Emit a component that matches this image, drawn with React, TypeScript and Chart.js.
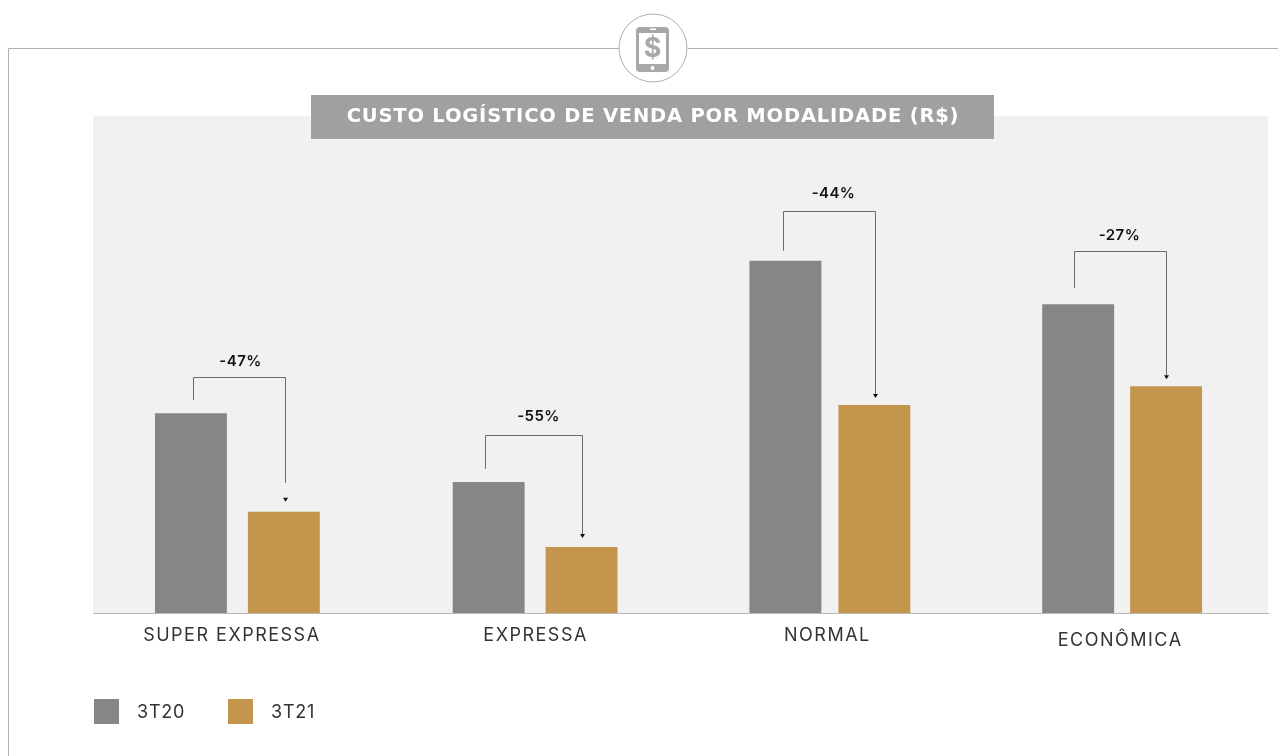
import React, { useEffect, useRef } from "react";
import { Chart, registerables } from "chart.js";

Chart.register(...registerables);

const categories = ["SUPER EXPRESSA", "EXPRESSA", "NORMAL", "ECONÔMICA"];
const series3T20 = [5.63, 3.69, 9.92, 8.7];
const series3T21 = [2.85, 1.86, 5.86, 6.39];
const deltaLabels = ["-47%", "-55%", "-44%", "-27%"];
const bracketLevels = [6.62, 4.99, 11.3, 10.17];
const titleText = "CUSTO LOGÍSTICO DE VENDA POR MODALIDADE (R$)";

const GREY = "#868686";
const GOLD = "#c4954d";
const FONT = "Inter, 'Open Sans', sans-serif";
const TITLE_FONT = "'DejaVu Sans', sans-serif";

// small per-bar horizontal corrections (px) for the hand-placed bars of the original
const barNudges = [
  [-3.5, 0.5, 3.5, 2.5],
  [-1.5, 2.5, 1.5, -0.5],
];
const labelNudges = [-8, 2, 0, -1];
const labelDrops = [0, 0, 0, 5];
const leftGaps = [13, 13, 10, 16];
const rightGaps = [10, 9, 7, 7];
const bracketLeftOffsets = [2, -4, -2, -4];
const bracketRightOffsets = [1, 0, 1, 0];
const deltaOffsets = [1, 4.5, 4, -1];
const deltaRaise = [16, 19, 18, 16];
const lineBreak = [true, false, false, false];

const decor = {
  id: "decor",
  afterUpdate(chart: any) {
    chart.data.datasets.forEach((_: any, i: number) => {
      chart.getDatasetMeta(i).data.forEach((el: any, j: number) => {
        el.x += barNudges[i][j];
      });
    });
    const items = chart.scales.x.getLabelItems(chart.chartArea);
    items.forEach((it: any, j: number) => {
      it.options.translation = [
        it.options.translation[0] + labelNudges[j],
        it.options.translation[1] + labelDrops[j],
      ];
    });
  },
  beforeDraw(chart: any) {
    const { ctx, chartArea: a } = chart;
    ctx.save();
    ctx.fillStyle = "#ffffff";
    ctx.fillRect(0, 0, chart.width, chart.height);
    ctx.fillStyle = "#f1f1f1";
    ctx.fillRect(a.left, a.top, a.right - a.left, a.bottom - a.top);

    // frame
    ctx.strokeStyle = "#b0b0b0";
    ctx.lineWidth = 1;
    ctx.beginPath();
    ctx.moveTo(8.5, 756);
    ctx.lineTo(8.5, 48.5);
    ctx.lineTo(619, 48.5);
    ctx.moveTo(688, 48.5);
    ctx.lineTo(1278, 48.5);
    ctx.stroke();
    ctx.beginPath();
    ctx.arc(653, 48, 34, 0, Math.PI * 2);
    ctx.stroke();

    // phone icon
    ctx.fillStyle = "#a8a8a8";
    ctx.beginPath();
    ctx.roundRect(636, 27, 33, 45, 4);
    ctx.fill();
    ctx.fillStyle = "#ffffff";
    ctx.fillRect(639, 33, 27, 31);
    ctx.fillRect(650, 28.5, 6, 1.5);
    ctx.beginPath();
    ctx.arc(652.5, 68, 2, 0, Math.PI * 2);
    ctx.fill();
    ctx.fillStyle = "#a8a8a8";
    ctx.font = `700 27px ${FONT}`;
    ctx.textAlign = "center";
    ctx.textBaseline = "middle";
    ctx.fillText("$", 652.5, 48.5);

    // title bar
    ctx.fillStyle = "#a0a0a0";
    ctx.fillRect(311, 95, 683, 44);
    ctx.fillStyle = "#ffffff";
    ctx.font = `700 19.5px ${TITLE_FONT}`;
    (ctx as any).letterSpacing = "0.8px";
    ctx.fillText(titleText, 653, 117);

    // legend
    ctx.textAlign = "left";
    ctx.font = `400 18px ${FONT}`;
    (ctx as any).letterSpacing = "0.8px";
    [94, 228].forEach((x, i) => {
      ctx.fillStyle = chart.data.datasets[i].backgroundColor;
      ctx.fillRect(x, 699, 25, 25);
      ctx.fillStyle = "#333333";
      ctx.fillText(chart.data.datasets[i].label, x + 43, 713);
    });
    ctx.restore();
    // the axis labels of the reference are widely tracked
    (ctx as any).letterSpacing = "1.5px";
  },
  afterDatasetsDraw(chart: any) {
    const { ctx, scales } = chart;
    const m0 = chart.getDatasetMeta(0).data;
    const m1 = chart.getDatasetMeta(1).data;
    ctx.save();
    (ctx as any).letterSpacing = "0.4px";
    deltaLabels.forEach((label, i) => {
      const lx = Math.round(m0[i].x + bracketLeftOffsets[i]) + 0.5;
      const rx = Math.round(m1[i].x + bracketRightOffsets[i]) + 0.5;
      const top = Math.round(scales.y.getPixelForValue(bracketLevels[i])) - 0.5;
      const leftEnd = m0[i].y - leftGaps[i];
      const tip = m1[i].y - rightGaps[i];
      ctx.strokeStyle = "#6b6b6b";
      ctx.lineWidth = 1;
      ctx.beginPath();
      ctx.moveTo(lx, leftEnd);
      ctx.lineTo(lx, top);
      ctx.lineTo(rx, top);
      ctx.lineTo(rx, lineBreak[i] ? tip - 19 : tip - 4);
      ctx.stroke();
      ctx.fillStyle = "#111111";
      ctx.beginPath();
      ctx.moveTo(rx - 2.5, tip - 4);
      ctx.lineTo(rx + 2.5, tip - 4);
      ctx.lineTo(rx, tip);
      ctx.closePath();
      ctx.fill();
      ctx.font = `600 15px ${FONT}`;
      ctx.textAlign = "center";
      ctx.textBaseline = "middle";
      ctx.fillText(label, (lx + rx) / 2 + deltaOffsets[i], top - deltaRaise[i]);
    });
    ctx.restore();
  },
};

export default function App() {
  const ref = useRef<HTMLCanvasElement>(null);
  useEffect(() => {
    const chart = new Chart(ref.current!, {
      type: "bar",
      data: {
        labels: categories,
        datasets: [
          { label: "3T20", data: series3T20, backgroundColor: GREY },
          { label: "3T21", data: series3T21, backgroundColor: GOLD },
        ],
      },
      plugins: [decor],
      options: {
        responsive: false,
        animation: false,
        layout: { padding: { left: 93, right: 10, top: 116, bottom: 0 } },
        datasets: { bar: { categoryPercentage: 0.619, barPercentage: 0.791 } },
        plugins: { legend: { display: false }, tooltip: { enabled: false } },
        scales: {
          x: {
            afterFit: (s: any) => {
              s.height = 143;
            },
            grid: { display: false },
            border: { display: true, color: "#b8b8b8", width: 1 },
            ticks: {
              color: "#333333",
              font: { family: FONT, size: 18 },
              padding: 4,
              maxRotation: 0,
            },
          },
          y: { display: false, min: 0, max: 14 },
        },
      },
    } as any);
    return () => chart.destroy();
  }, []);
  return (
    <div style={{ position: "absolute", left: 0, top: 0 }}>
      <canvas ref={ref} width={1278} height={756} style={{ display: "block" }} />
    </div>
  );
}
